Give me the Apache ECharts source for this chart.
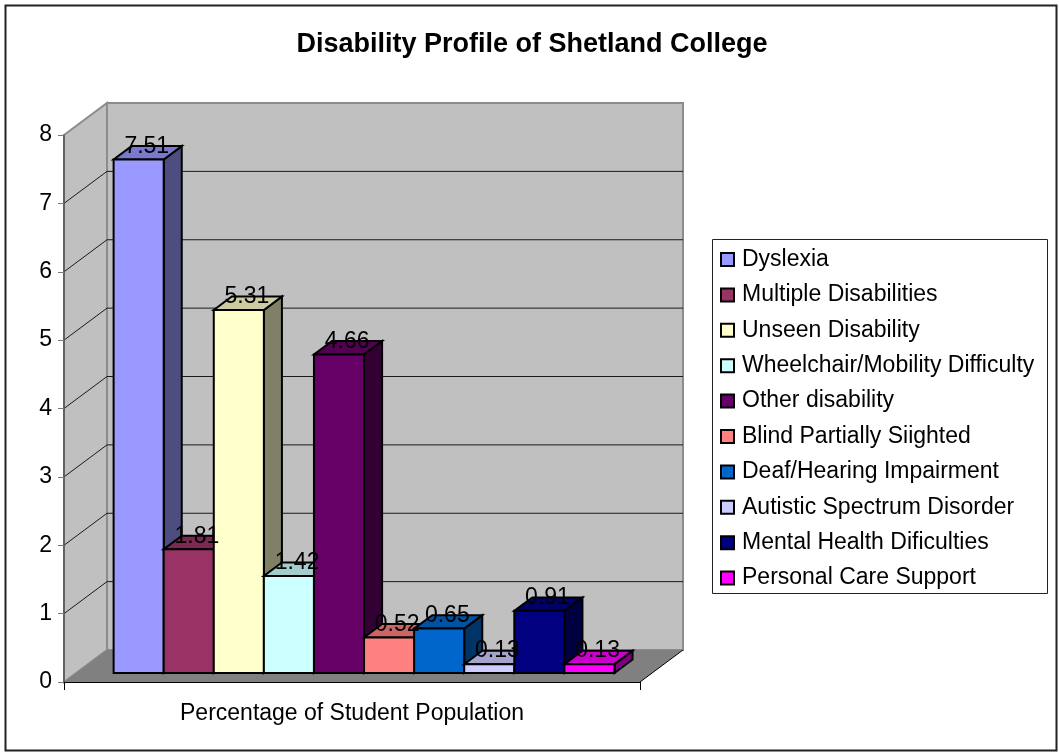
<!DOCTYPE html>
<html>
<head>
<meta charset="utf-8">
<title>Disability Profile of Shetland College</title>
<script src="https://cdn.jsdelivr.net/npm/echarts@6/dist/echarts.min.js"></script>
<style>
  html, body { margin: 0; padding: 0; background: #fff; }
  #chart { width: 1059px; height: 754px; }
</style>
</head>
<body>
<div id="chart"></div>
<script>
// ---- data ----
const categories = ['Percentage of Student Population'];
const seriesNames = [
  'Dyslexia',
  'Multiple Disabilities',
  'Unseen Disability',
  'Wheelchair/Mobility Difficulty',
  'Other disability',
  'Blind Partially Siighted',
  'Deaf/Hearing Impairment',
  'Autistic Spectrum Disorder',
  'Mental Health Dificulties',
  'Personal Care Support'
];
const seriesValues = [7.51, 1.81, 5.31, 1.42, 4.66, 0.52, 0.65, 0.13, 0.91, 0.13];
const seriesColors = [
  '#9999FF', '#993366', '#FFFFCC', '#CCFFFF', '#660066',
  '#FF8080', '#0066CC', '#CCCCFF', '#000080', '#FF00FF'
];
const yMin = 0, yMax = 8, yStep = 1;

// ---- 3D look ----
const FONT = "'Liberation Sans', Arial, sans-serif";
const FS = 23;
const DX = 43, DY = -32;        // depth of the plot box (front plane -> back wall)
const F1 = 0.28, F2 = 0.42;     // bar front position and bar depth, as fractions of box depth
const GAP = 1.5;                // gap width between category groups (in bar widths)
const N = seriesValues.length;

function shade(hex, k) {
  const n = parseInt(hex.slice(1), 16);
  const r = Math.round(((n >> 16) & 255) * k);
  const g = Math.round(((n >> 8) & 255) * k);
  const b = Math.round((n & 255) * k);
  return 'rgb(' + r + ',' + g + ',' + b + ')';
}

function yTickValues() {
  const out = [];
  for (let v = yMin; v <= yMax + 1e-9; v += yStep) out.push(v);
  return out;
}

// back wall, side wall, floor and gridlines
function renderWalls(params, api) {
  const cs = params.coordSys;
  const left = cs.x, right = cs.x + cs.width;
  const y0 = api.coord([0, yMin])[1];
  const yTop = api.coord([0, yMax])[1];
  const children = [];
  children.push({
    type: 'rect', z2: 0,
    shape: { x: left + DX, y: yTop + DY, width: right - left, height: y0 - yTop },
    style: { fill: '#C0C0C0', stroke: '#8C8C8C', lineWidth: 2 }
  });
  children.push({
    type: 'polygon', z2: 1,
    shape: { points: [[left, yTop], [left + DX, yTop + DY], [left + DX, y0 + DY], [left, y0]] },
    style: { fill: '#C0C0C0', stroke: '#8C8C8C', lineWidth: 2 }
  });
  children.push({
    type: 'polygon', z2: 2,
    shape: { points: [[left, y0], [right, y0], [right + DX, y0 + DY], [left + DX, y0 + DY]] },
    style: { fill: '#808080' }
  });
  children.push({
    type: 'line', z2: 3,
    shape: { x1: right, y1: y0, x2: right + DX, y2: y0 + DY },
    style: { stroke: '#000', lineWidth: 1 }
  });
  yTickValues().forEach(function (v) {
    if (v <= yMin || v >= yMax) return;
    const y = api.coord([0, v])[1];
    children.push({
      type: 'line', z2: 3,
      shape: { x1: left + DX, y1: y + DY, x2: right + DX, y2: y + DY },
      style: { stroke: '#1a1a1a', lineWidth: 1 }
    });
    children.push({
      type: 'line', z2: 3,
      shape: { x1: left, y1: y, x2: left + DX, y2: y + DY },
      style: { stroke: '#1a1a1a', lineWidth: 1 }
    });
  });
  return { type: 'group', children: children };
}

function makeBarRenderer(idx) {
  return function (params, api) {
    const cat = api.value(0), v = api.value(1);
    const base = api.coord([cat, 0]);
    const top = api.coord([cat, v]);
    const band = api.size([1, 0])[0];
    const w = band / (N + GAP);
    const x0 = base[0] - band / 2 + w * (GAP / 2 + idx) + DX * F1;
    const x1 = x0 + w;
    const yb = base[1] + DY * F1;
    const yt = top[1] + DY * F1;
    const bx = DX * F2, by = DY * F2;
    const col = seriesColors[idx];
    const edge = { stroke: '#000', lineWidth: 2, lineJoin: 'miter' };
    return {
      type: 'group',
      children: [
        {
          type: 'polygon', z2: 10 + idx * 3,
          shape: { points: [[x1, yt], [x1 + bx, yt + by], [x1 + bx, yb + by], [x1, yb]] },
          style: Object.assign({ fill: shade(col, 0.5) }, edge)
        },
        {
          type: 'polygon', z2: 11 + idx * 3,
          shape: { points: [[x0, yt], [x1, yt], [x1 + bx, yt + by], [x0 + bx, yt + by]] },
          style: Object.assign({ fill: shade(col, 0.8) }, edge)
        },
        {
          type: 'rect', z2: 12 + idx * 3,
          shape: { x: x0, y: yt, width: w, height: yb - yt },
          style: Object.assign({ fill: col }, edge)
        },
        {
          type: 'text', z2: 1000,
          style: {
            text: v.toFixed(2),
            x: (x0 + x1) / 2 + bx * 0.45,
            y: yt - 13,
            align: 'center',
            verticalAlign: 'middle',
            fontSize: FS,
            fontFamily: FONT,
            fill: '#000'
          }
        }
      ]
    };
  };
}

const series = [{
  type: 'custom',
  name: '__walls',
  silent: true,
  z: 2,
  data: [[0, yMax]],
  encode: { x: 0, y: 1 },
  renderItem: renderWalls
}];
seriesNames.forEach(function (name, i) {
  series.push({
    type: 'custom',
    name: name,
    z: 3,
    data: [[0, seriesValues[i]]],
    encode: { x: 0, y: 1 },
    itemStyle: { color: seriesColors[i], borderColor: '#000', borderWidth: 2 },
    renderItem: makeBarRenderer(i)
  });
});

const chart = echarts.init(document.getElementById('chart'), null, { renderer: 'canvas' });
chart.setOption({
  animation: false,
  backgroundColor: '#fff',
  color: seriesColors,
  title: {
    text: 'Disability Profile of Shetland College',
    left: 532,
    textAlign: 'center',
    top: 31,
    padding: 0,
    textStyle: { fontSize: 27, fontWeight: 'bold', fontFamily: FONT, color: '#000' }
  },
  graphic: [
    {
      type: 'rect', z: -10,
      shape: { x: 5.5, y: 5.5, width: 1051, height: 745 },
      style: { fill: '#fff', stroke: '#222', lineWidth: 2 }
    },
    {
      type: 'rect', z: 0,
      shape: { x: 712.5, y: 239.5, width: 335, height: 354 },
      style: { fill: '#fff', stroke: '#222', lineWidth: 1 }
    }
  ],
  legend: {
    orient: 'vertical',
    left: 720,
    top: 248,
    padding: 0,
    itemWidth: 13,
    itemHeight: 13,
    itemGap: 12.4,
    icon: 'rect',
    selectedMode: false,
    itemStyle: { borderColor: '#000', borderWidth: 2 },
    textStyle: { fontSize: FS, fontFamily: FONT, color: '#000', lineHeight: 23, padding: [0, 0, 0, 3] },
    data: seriesNames.map(function (n, i) {
      return { name: n, itemStyle: { color: seriesColors[i], borderColor: '#000', borderWidth: 2 } };
    })
  },
  grid: {
    left: 64,
    top: 135,
    width: 576,
    height: 547,
    containLabel: false,
    outerBoundsMode: 'none'
  },
  xAxis: {
    type: 'category',
    data: categories,
    z: 5,
    axisLine: { show: true, lineStyle: { color: '#000', width: 1 } },
    axisTick: { show: true, length: 8, alignWithLabel: false, lineStyle: { color: '#000' } },
    axisLabel: { fontSize: FS, fontFamily: FONT, color: '#000', margin: 20 },
    splitLine: { show: false }
  },
  yAxis: {
    type: 'value',
    min: yMin,
    max: yMax,
    interval: yStep,
    z: 5,
    axisLine: { show: true, lineStyle: { color: '#555', width: 1.5 } },
    axisTick: { show: true, length: 6, lineStyle: { color: '#777' } },
    axisLabel: { fontSize: FS, fontFamily: FONT, color: '#000', margin: 12 },
    splitLine: { show: false }
  },
  series: series
});
</script>
</body>
</html>
